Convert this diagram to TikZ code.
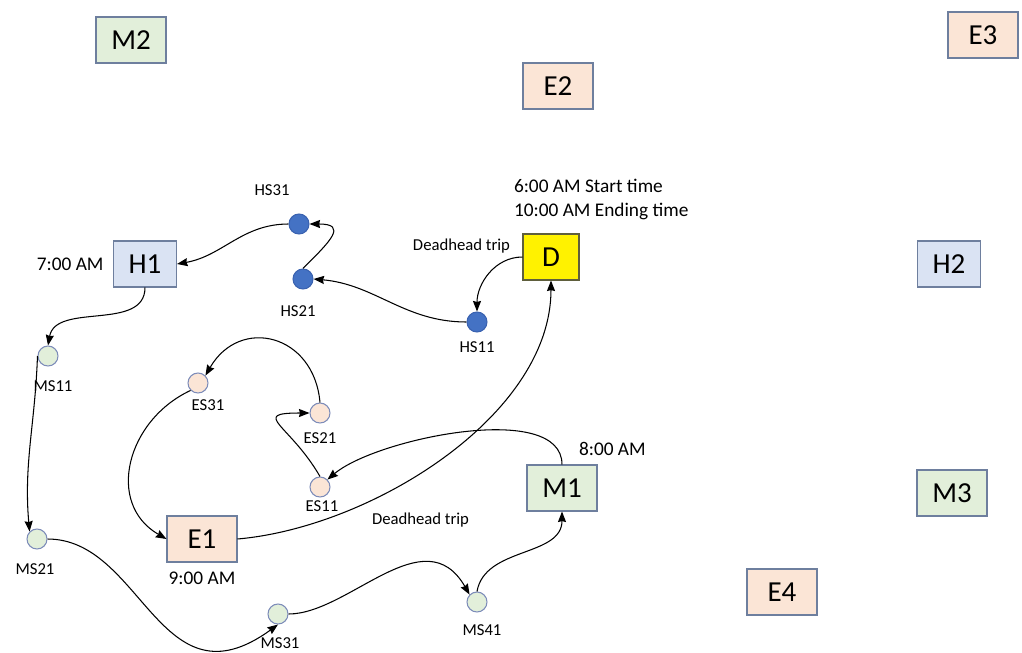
\documentclass[tikz,border=0pt]{standalone}
\usepackage{fontspec}
\setmainfont{Carlito}
\usetikzlibrary{arrows.meta,positioning}
\definecolor{boxline}{RGB}{110,127,158}
\definecolor{dline}{RGB}{95,95,60}
\definecolor{mfill}{RGB}{226,239,218}
\definecolor{efill}{RGB}{251,229,214}
\definecolor{hfill}{RGB}{218,227,243}
\definecolor{hsblue}{RGB}{68,114,196}
\definecolor{hsline}{RGB}{58,98,176}
\definecolor{stopline}{RGB}{125,140,185}
\tikzstyle{box}=[draw=boxline, line width=0.6pt, minimum width=1.4cm, minimum height=0.92cm, inner sep=0pt, font=\fontsize{16.5}{16.5}\selectfont]
\tikzstyle{mbox}=[box, fill=mfill]
\tikzstyle{ebox}=[box, fill=efill]
\tikzstyle{hbox}=[box, fill=hfill, minimum width=1.26cm]
\tikzstyle{dbox}=[box, fill=yellow, draw=dline, minimum width=1.12cm]
\tikzstyle{stop node}=[circle, line width=0.6pt, minimum size=0.4cm, inner sep=0pt]
\tikzstyle{hs node}=[stop node, fill=hsblue, draw=hsline]
\tikzstyle{ms node}=[stop node, fill=mfill, draw=stopline]
\tikzstyle{es node}=[stop node, fill=efill, draw=stopline]
\tikzstyle{tag}=[inner sep=0pt, font=\fontsize{9.5}{11}\selectfont]
\tikzstyle{clock label}=[inner sep=0pt, font=\fontsize{11}{13.6}\selectfont]

\begin{document}
\begin{tikzpicture}[x=0.02cm, y=0.02cm, ->, >={Stealth[length=6pt,width=4.6pt,inset=0.6pt]}, line width=0.6pt]

  \useasboundingbox (0,0) rectangle (1022,-653);

  % depots and terminals
  \node[mbox] (M2) at (131,-40) {M2};
  \node[ebox] (E2) at (558,-86) {E2};
  \node[ebox] (E3) at (983,-35) {E3};
  \node[hbox] (H1) at (145,-264) {H1};
  \node[dbox] (D) at (551,-257) {D};
  \node[hbox] (H2) at (949,-264) {H2};
  \node[mbox] (M1) at (562,-488) {M1};
  \node[mbox] (M3) at (952,-493) {M3};
  \node[ebox] (E1) at (202,-539) {E1};
  \node[ebox] (E4) at (782,-592) {E4};

  % stops
  \node[hs node] (HS31) at (299,-224) {};
  \node[hs node] (HS21) at (303,-279) {};
  \node[hs node] (HS11) at (477,-322) {};
  \node[ms node] (MS11) at (48,-356) {};
  \node[ms node] (MS21) at (37,-539) {};
  \node[ms node] (MS31) at (278,-614) {};
  \node[ms node] (MS41) at (477,-602) {};
  \node[es node] (ES31) at (198,-383) {};
  \node[es node] (ES21) at (320,-413) {};
  \node[es node] (ES11) at (320,-487) {};

  \node[tag] (hs31lab) [above=0.34cm of HS31, xshift=-0.54cm] {HS31};
  \node[tag] (hs21lab) [below=0.32cm of HS21, xshift=-0.1cm] {HS21};
  \node[tag] (hs11lab) [below=0.18cm of HS11] {HS11};
  \node[tag] (ms11lab) [below=0.28cm of MS11, xshift=0.1cm] {MS11};
  \node[tag] (es31lab) [below=0.12cm of ES31, xshift=0.2cm] {ES31};
  \node[tag] (es21lab) [below=0.18cm of ES21] {ES21};
  \node[tag] (es11lab) [below=0.05cm of ES11, xshift=0.04cm] {ES11};
  \node[tag] (ms21lab) [below=0.28cm of MS21, xshift=-0.04cm] {MS21};
  \node[tag] (ms31lab) [below=0.26cm of MS31, xshift=0.04cm] {MS31};
  \node[tag] (ms41lab) [below=0.24cm of MS41, xshift=0.1cm] {MS41};

  % times
  \node[clock label] (t7) [left=0.18cm of H1] {7:00 AM};
  \node[clock label] (t9) [below=0.18cm of E1] {9:00 AM};
  \node[clock label] (t8) [above right=0.16cm and -0.38cm of M1.north east] {8:00 AM};
  \node[clock label, align=left] (times) [above right=0.26cm and -0.18cm of D.north west] {6:00 AM Start time\\10:00 AM Ending time};
  \node[tag] (dead1) [left=0.24cm of D, yshift=0.22cm] {Deadhead trip};
  \node[tag] (dead2) [below left=0.02cm and 1.14cm of M1.south west] {Deadhead trip};

  \path[]
  (D.west) edge[out=180, in=90] (HS11.north)
  (HS11.west) edge[out=180, in=-5] (HS21.east)
  (HS21.north) edge[out=45, in=0, looseness=2.2] (HS31.east)
  (HS31.west) edge[out=180, in=10] (H1.east)
  (H1.south) edge[out=-90, in=80] (MS11.north)
  (MS11.west) edge[out=-92, in=95] (MS21.north west)
  (MS21.east) edge[out=0, in=-144, out distance=1.9cm, in distance=2.92cm] (MS31.south)
  (MS31.east) edge[out=0, in=120, out distance=1.2cm, in distance=1.8cm] (MS41.north west)
  (MS41.north) edge[out=80, in=-90] (M1.south)
  (M1.north) edge[out=90, in=40, looseness=0.7] (ES11.north east)
  (ES11.north) edge[out=120, in=180, looseness=2.4] (ES21.west)
  (ES21.north) edge[out=95, in=60, looseness=1.5] (ES31.north east)
  (ES31.south west) edge[out=-155, in=150, looseness=1.2] (E1.west)
  (E1.east) edge[out=5, in=-90, looseness=0.85] (D.south);

\end{tikzpicture}
\end{document}
